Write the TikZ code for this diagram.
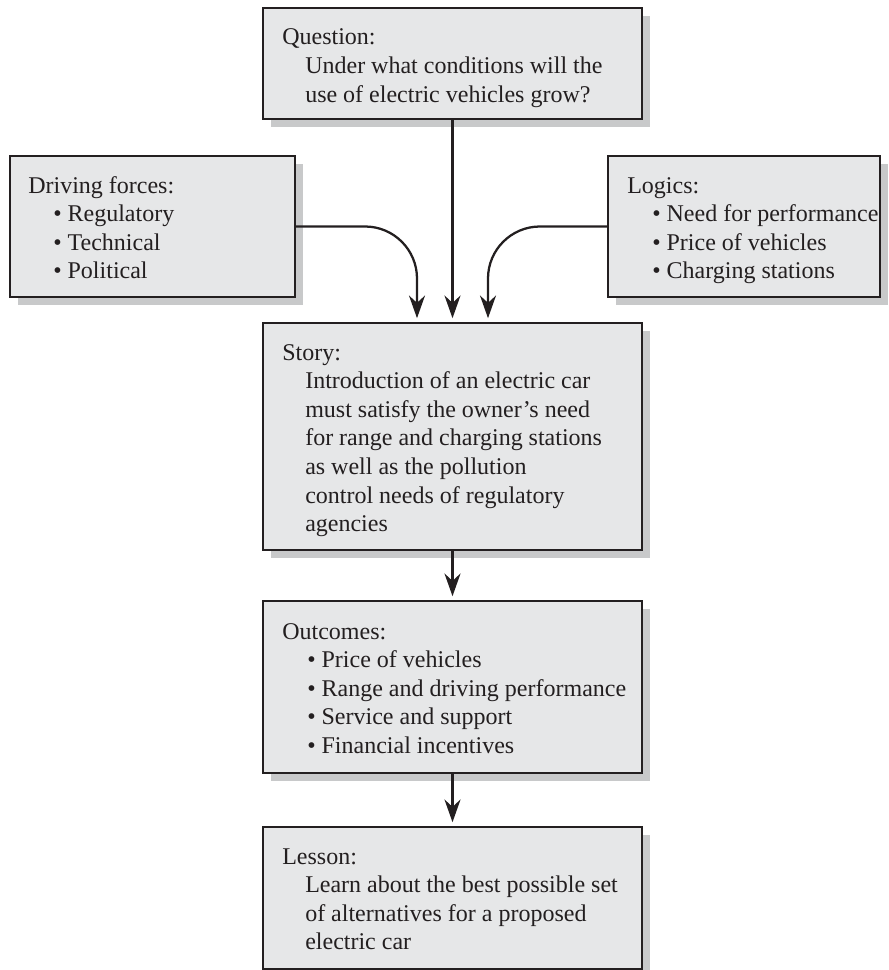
\documentclass[tikz,border=0pt]{standalone}
\usepackage{fontspec}
\setmainfont{Liberation Serif}
\usetikzlibrary{arrows.meta,shadows,fit,calc}

\definecolor{boxfill}{HTML}{E6E7E8}
\definecolor{boxshade}{HTML}{C8C9CA}
\definecolor{ink}{HTML}{231F20}

% indentation of continuation lines and bullet items
\newcommand\contind{\hspace*{17.25pt}}
\newcommand\itembul{\hspace*{18.75pt}\textbullet\ }

\tikzset{
  panel/.style={draw=ink, line width=1.2pt, fill=boxfill, inner sep=0pt,
    general shadow={fill=boxshade, shadow xshift=6pt, shadow yshift=-6pt}},
  caption/.style={anchor=base west, inner sep=0pt, text=ink,
    font=\fontsize{18}{21.45}\selectfont},
  flow/.style={draw=ink, line width=1.7pt,
    -{Stealth[length=17pt,width=12pt,inset=5.5pt]}, shorten >=3pt},
}

\begin{document}
\begin{tikzpicture}[x=0.75pt, y=-0.75pt]
\useasboundingbox (0,0) rectangle (888,970);

% boxes
\node[panel, fit={(263,8) (642,119)}]   (q) {};
\node[panel, fit={(10,156) (295,297)}]  (d) {};
\node[panel, fit={(608,156) (880,297)}] (l) {};
\node[panel, fit={(263,323) (642,550)}] (s) {};
\node[panel, fit={(263,601) (642,773)}] (o) {};
\node[panel, fit={(263,827) (642,969)}] (e) {};

% box texts
\node[caption] (qt) at (282,45) {\parbox[t]{300pt}{Question:\\
  \contind Under what conditions will the\\
  \contind use of electric vehicles grow?}};

\node[caption] (dt) at (28,193) {\parbox[t]{200pt}{Driving forces:\\
  \itembul Regulatory\\
  \itembul Technical\\
  \itembul Political}};

\node[caption] (lt) at (627,193) {\parbox[t]{200pt}{Logics:\\
  \itembul Need for performance\\
  \itembul Price of vehicles\\
  \itembul Charging stations}};

\node[caption] (st) at (282,360) {\parbox[t]{300pt}{Story:\\
  \contind Introduction of an electric car\\
  \contind must satisfy the owner’s need\\
  \contind for range and charging stations\\
  \contind as well as the pollution\\
  \contind control needs of regulatory\\
  \contind agencies}};

\node[caption] (ot) at (282,639) {\parbox[t]{300pt}{Outcomes:\\
  \itembul Price of vehicles\\
  \itembul Range and driving performance\\
  \itembul Service and support\\
  \itembul Financial incentives}};

\node[caption] (et) at (282,864) {\parbox[t]{300pt}{Lesson:\\
  \contind Learn about the best possible set\\
  \contind of alternatives for a proposed\\
  \contind electric car}};

% connectors
\draw[flow] (q.south) -- (s.north);
\draw[flow, rounded corners=39pt] (d.east) -| ($(s.north)+(-35.5,0)$);
\draw[flow, rounded corners=39pt] (l.west) -| ($(s.north)+(35.5,0)$);
\draw[flow] (s.south) -- (o.north);
\draw[flow] (o.south) -- (e.north);
\end{tikzpicture}
\end{document}
